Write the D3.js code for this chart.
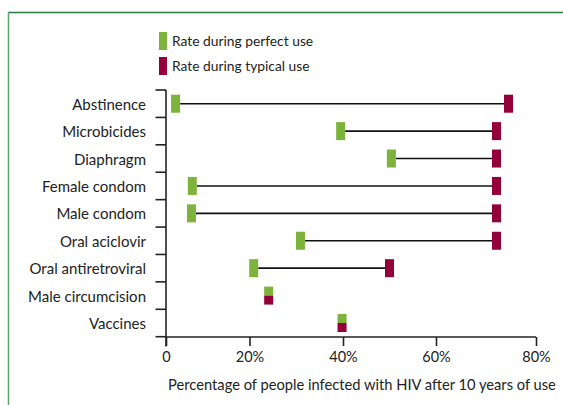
<!DOCTYPE html>
<html><head><meta charset="utf-8">
<script src="https://cdn.jsdelivr.net/npm/d3@7"></script>
<style>html,body{margin:0;padding:0;background:#fff;}svg{display:block;font-family:Lato,"Open Sans",sans-serif;}</style>
</head><body>
<script>
const categories = ["Abstinence","Microbicides","Diaphragm","Female condom","Male condom","Oral aciclovir","Oral antiretroviral","Male circumcision","Vaccines"];
const perfectUse = [2.3, 39.5, 50.4, 6.3, 6.1, 30.9, 20.9, 24.1, 39.8];
const typicalUse = [74.5, 72.1, 72.1, 72.1, 72.1, 72.1, 50.0, 24.1, 39.8];
const xTicks = [0, 20, 40, 60, 80];
const xTickLabels = ["0", "20%", "40%", "60%", "80%"];
const seriesNames = ["Rate during perfect use", "Rate during typical use"];
const colors = ["#7db33a", "#93003a"];

const W = 563, H = 405;
const svg = d3.select("body").append("svg").attr("width", W).attr("height", H);

// frame
svg.append("line").attr("x1", 8).attr("x2", W).attr("y1", 12.5).attr("y2", 12.5).attr("stroke", "#2a7a40").attr("stroke-width", 1.5);
svg.append("line").attr("x1", 8.5).attr("x2", 8.5).attr("y1", 12).attr("y2", H).attr("stroke", "#5ea572").attr("stroke-width", 1.5);

const x = d3.scaleLinear().domain(xTicks).range([166, 249.5, 343, 436, 536]);
const y = d3.scaleBand().domain(categories).range([90, 336.7]).padding(0);

const g = svg.append("g");
g.append("line").attr("x1", 166).attr("x2", 166).attr("y1", 90).attr("y2", 346.5).attr("stroke", "#222").attr("stroke-width", 1.6);
const bounds = categories.map(c => y(c)).concat([y.range()[1]]);
g.selectAll(".yt").data(bounds).enter().append("line")
  .attr("x1", 155.5).attr("x2", 166).attr("y1", d => d).attr("y2", d => d)
  .attr("stroke", "#222").attr("stroke-width", 1.6);
g.selectAll(".yl").data(categories).enter().append("text")
  .attr("x", 146).attr("y", d => y(d) + y.bandwidth()/2).attr("dy", "0.4em")
  .attr("text-anchor", "end").attr("font-size", 15).attr("fill", "#222").text(d => d);

const xAxis = d3.axisBottom(x).tickValues(xTicks).tickSize(9).tickFormat((d, i) => xTickLabels[i]);
const xg = svg.append("g").attr("transform", "translate(0,337)").call(xAxis);
xg.select(".domain").attr("stroke", "#222").attr("stroke-width", 1.6).attr("d", "M166,0H536");
xg.selectAll(".tick line").attr("stroke", "#222").attr("stroke-width", 1.6);
xg.selectAll(".tick text").attr("font-size", 14.5).attr("fill", "#222").attr("font-family", "Lato").attr("dy", "1.1em").attr("y", 9);
svg.append("text").attr("x", 362).attr("y", 390).attr("text-anchor", "middle").attr("font-size", 14.7).attr("fill", "#222").text("Percentage of people infected with HIV after 10 years of use");

const mw = 9, mh = 18;
const rows = categories.map((c, i) => ({c, p: perfectUse[i], t: typicalUse[i]}));
rows.forEach(r => {
  const cy = y(r.c) + y.bandwidth()/2;
  if (r.p !== r.t) {
    svg.append("line").attr("x1", x(r.p) + mw/2).attr("x2", x(r.t) - mw/2).attr("y1", cy).attr("y2", cy)
      .attr("stroke", "#111").attr("stroke-width", 1.6);
    svg.append("rect").attr("x", x(r.p) - mw/2).attr("y", cy - mh/2).attr("width", mw).attr("height", mh).attr("fill", colors[0]);
    svg.append("rect").attr("x", x(r.t) - mw/2).attr("y", cy - mh/2).attr("width", mw).attr("height", mh).attr("fill", colors[1]);
  } else {
    svg.append("rect").attr("x", x(r.p) - mw/2).attr("y", cy - mh/2).attr("width", mw).attr("height", mh/2).attr("fill", colors[0]);
    svg.append("rect").attr("x", x(r.t) - mw/2).attr("y", cy).attr("width", mw).attr("height", mh/2).attr("fill", colors[1]);
  }
});

const lg = svg.append("g");
seriesNames.forEach((s, i) => {
  const ly = 32 + i * 25;
  lg.append("rect").attr("x", 159).attr("y", ly).attr("width", 8).attr("height", 18).attr("fill", colors[i]);
  lg.append("text").attr("x", 172).attr("y", ly + 9).attr("dy", "0.38em").attr("font-size", 13.8).attr("fill", "#222").text(s);
});
</script>
</body></html>
